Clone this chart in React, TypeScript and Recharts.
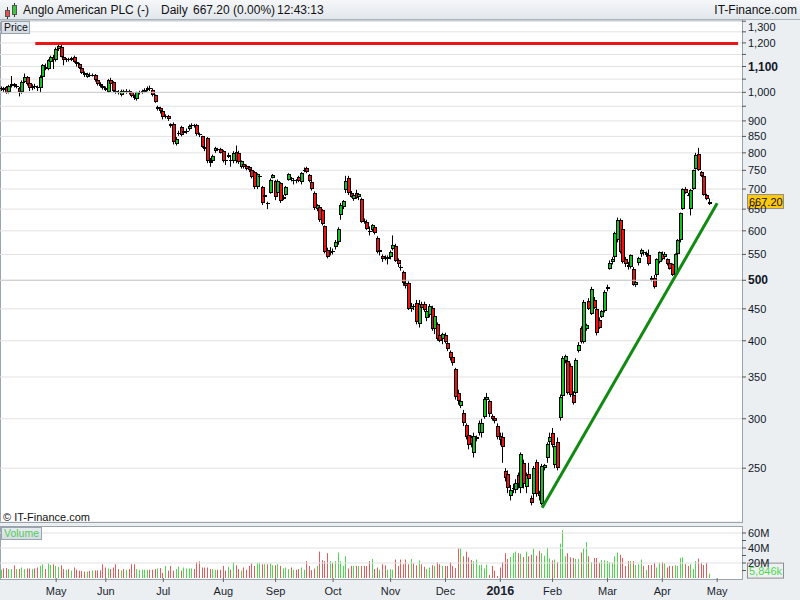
import React from "react";
import { Bar, CartesianGrid, ComposedChart, ReferenceLine, XAxis, YAxis } from "recharts";

// [open, high, low, close, volume in millions]
type Row = [number, number, number, number, number];

// first row is 31 Mar
const APR_15: Row[] = [
  [1012, 1022, 1005, 1015, 11], [1015, 1020, 1002, 1010, 12.7], [1020, 1024, 995, 998, 13.2],
  [1000, 1028, 996, 1025, 11.9], [1025, 1062, 1018, 1030, 11.9], [1030, 1035, 1018, 1022, 17],
  [1022, 1030, 1015, 1025, 11.9], [1015, 1020, 985, 1000, 11.9], [1000, 1045, 995, 1040, 14],
  [1040, 1072, 1035, 1060, 11.9], [1060, 1062, 1025, 1030, 12.7], [1035, 1040, 1005, 1015, 12.7],
  [1015, 1030, 1008, 1025, 11.9], [1025, 1032, 1012, 1020, 12.7], [1020, 1025, 1005, 1015, 14],
  [1015, 1065, 1000, 1060, 16.1], [1060, 1110, 1055, 1105, 18.3], [1100, 1112, 1085, 1090, 11.9],
  [1090, 1130, 1085, 1125, 19.5], [1120, 1145, 1115, 1140, 17.4], [1140, 1148, 1090, 1125, 18.3],
];

const MAY_15: Row[] = [
  [1125, 1180, 1120, 1175, 16.1], [1175, 1198, 1165, 1185, 14.9], [1180, 1196, 1138, 1140, 17],
  [1140, 1145, 1105, 1125, 11.9], [1125, 1135, 1118, 1130, 11], [1130, 1136, 1120, 1128, 11.9],
  [1128, 1140, 1122, 1135, 9.8], [1140, 1145, 1115, 1120, 14], [1120, 1125, 1100, 1110, 11],
  [1110, 1115, 1090, 1095, 9.8], [1095, 1098, 1070, 1075, 9.3], [1075, 1080, 1058, 1065, 8.5],
  [1060, 1075, 1055, 1070, 8.5], [1068, 1075, 1058, 1065, 9.3], [1065, 1072, 1060, 1068, 10.2],
  [1068, 1070, 1040, 1045, 10.2], [1045, 1050, 1025, 1030, 10.2], [1030, 1038, 1018, 1025, 10.2],
  [1025, 1030, 1010, 1015, 18.3],
];

const JUN_15: Row[] = [
  [1015, 1022, 1005, 1010, 14], [1000, 1050, 998, 1045, 12.7], [1045, 1055, 1025, 1030, 11.9],
  [1040, 1042, 1000, 1005, 14], [1005, 1012, 995, 1000, 18.3], [1002, 1008, 992, 998, 11.9],
  [990, 1010, 985, 1005, 10.2], [1005, 1010, 995, 1000, 11.9], [1000, 1012, 995, 1005, 11],
  [1005, 1010, 992, 1000, 11.9], [1000, 1002, 982, 988, 18.3], [988, 992, 972, 978, 18.3],
  [975, 1002, 970, 1000, 11.9], [998, 1006, 992, 1002, 11], [1000, 1010, 995, 1005, 11],
  [1002, 1015, 998, 1010, 11], [1008, 1022, 1004, 1015, 11], [1015, 1025, 1005, 1012, 11],
  [1010, 1015, 985, 990, 11], [990, 992, 962, 965, 11.9], [940, 952, 935, 948, 12.7],
  [945, 948, 925, 935, 13.2],
];

const JUL_15: Row[] = [
  [932, 935, 905, 912, 6.8], [915, 922, 908, 916, 16.1], [918, 920, 900, 905, 9.8],
  [890, 892, 878, 882, 16.1], [890, 895, 825, 832, 9.8], [828, 848, 822, 842, 11.9],
  [858, 868, 852, 860, 15.3], [880, 884, 850, 855, 9.8], [860, 872, 855, 866, 14],
  [865, 875, 858, 868, 12.7], [872, 888, 868, 882, 12.7], [882, 892, 876, 886, 12.7],
  [885, 890, 878, 884, 11.9], [886, 890, 852, 858, 21.2], [858, 862, 848, 854, 22.1],
  [850, 852, 815, 818, 14], [818, 822, 805, 810, 14], [845, 848, 770, 775, 14],
  [775, 785, 760, 770, 11.9], [776, 795, 772, 790, 11.9], [805, 818, 800, 815, 11],
  [812, 815, 805, 810, 11], [810, 815, 798, 800, 11],
];

const AUG_15: Row[] = [
  [805, 808, 772, 775, 16.1], [780, 785, 765, 778, 9.8], [788, 800, 785, 795, 14.9],
  [780, 790, 760, 778, 11], [775, 805, 770, 800, 21.2], [803, 822, 770, 775, 17],
  [800, 806, 768, 773, 11.9], [760, 778, 755, 775, 9.8], [768, 772, 755, 760, 14],
  [762, 766, 750, 755, 11], [758, 762, 745, 750, 16.1], [752, 755, 728, 732, 19.5],
  [745, 748, 700, 705, 16.1], [705, 742, 700, 740, 20.4], [735, 740, 730, 735, 20.4],
  [705, 708, 660, 664, 18.3], [680, 690, 670, 685, 18.3], [665, 668, 650, 662, 18.3],
  [690, 728, 688, 725, 19.5], [730, 740, 728, 737, 17],
];

const SEP_15: Row[] = [
  [720, 724, 672, 680, 17], [690, 725, 685, 722, 18.3], [715, 718, 665, 670, 16.1],
  [675, 685, 672, 680, 12.7], [685, 708, 682, 705, 14], [725, 742, 722, 740, 11.9],
  [728, 732, 720, 727, 14], [722, 728, 712, 725, 11], [723, 726, 715, 722, 11],
  [733, 735, 718, 720, 11.9], [718, 745, 712, 742, 14], [748, 758, 745, 752, 11],
  [756, 760, 742, 745, 22.5], [738, 740, 718, 720, 16.1], [718, 722, 696, 700, 10.6],
  [690, 694, 648, 652, 12.7], [650, 662, 645, 660, 16.1], [655, 660, 620, 625, 35.2],
  [648, 650, 612, 615, 23.8], [610, 612, 552, 555, 22.5], [560, 564, 542, 545, 33.1],
  [552, 565, 548, 557, 22.5],
];

const OCT_15: Row[] = [
  [558, 562, 550, 555, 20.4], [565, 580, 560, 575, 22.5], [575, 608, 570, 605, 34],
  [635, 665, 625, 660, 22.5], [655, 672, 650, 670, 16.1], [697, 735, 690, 720, 28.9],
  [730, 735, 685, 690, 12.7], [690, 695, 678, 680, 16.1], [675, 690, 670, 685, 16.1],
  [690, 698, 675, 678, 16.1], [680, 690, 672, 687, 16.1], [675, 678, 618, 620, 16.1],
  [622, 628, 616, 620, 16.1], [620, 625, 602, 605, 16.1], [600, 610, 590, 598, 22.5],
  [602, 615, 598, 612, 25.5], [608, 612, 592, 596, 11.9], [585, 588, 552, 555, 14],
  [555, 565, 548, 560, 11], [547, 550, 535, 540, 18.3], [545, 548, 538, 542, 17],
  [540, 548, 530, 545, 11],
];

const NOV_15: Row[] = [
  [545, 558, 540, 555, 11.9], [562, 590, 558, 570, 11], [568, 572, 535, 537, 24.6],
  [538, 542, 525, 530, 16.1], [525, 530, 518, 524, 24.6], [515, 518, 490, 495, 18.3],
  [495, 498, 485, 490, 24.6], [495, 498, 448, 450, 18.3], [450, 460, 445, 455, 25.5],
  [455, 458, 448, 454, 19.5], [460, 465, 425, 428, 17], [425, 465, 420, 458, 23.4],
  [458, 462, 450, 452, 18.3], [458, 462, 445, 448, 14.9], [435, 450, 430, 447, 11.9],
  [440, 458, 436, 455, 14], [452, 455, 415, 418, 17], [417, 440, 410, 438, 16.1],
  [425, 428, 400, 402, 21.2], [408, 412, 398, 400, 18.3], [402, 412, 395, 410, 16.1],
];

const DEC_15: Row[] = [
  [408, 412, 396, 398, 16.1], [396, 398, 385, 388, 16.1], [384, 386, 372, 375, 21.2],
  [377, 380, 365, 369, 16.1], [360, 362, 322, 325, 13.2], [330, 334, 316, 320, 39.5],
  [315, 322, 312, 320, 39.5], [307, 310, 292, 295, 28.9], [293, 295, 278, 280, 35.2],
  [283, 285, 268, 272, 27.6], [280, 282, 270, 273, 23.8], [264, 285, 260, 282, 22.5],
  [278, 282, 276, 280, 24.6], [285, 298, 282, 295, 17], [285, 300, 280, 295, 17.8],
  [302, 325, 300, 323, 12.7], [322, 330, 318, 325, 17.8], [320, 322, 302, 305, 4.2],
  [303, 305, 298, 300, 16.1], [301, 303, 295, 298, 9.8], [292, 295, 278, 280, 2.5],
];

const JAN_16: Row[] = [
  [282, 285, 272, 277, 14], [280, 285, 255, 270, 21.2], [247, 250, 238, 241, 33.1],
  [245, 248, 228, 232, 25.5], [226, 235, 222, 231, 28], [232, 236, 228, 232, 33.1],
  [231, 240, 228, 237, 35.2], [244, 246, 232, 236, 33.1], [232, 265, 228, 263, 32.3],
  [255, 258, 232, 236, 28], [233, 246, 228, 244, 35.2], [245, 255, 236, 240, 28.9],
  [224, 226, 218, 220, 31], [227, 252, 222, 250, 39.5], [256, 258, 225, 227, 29.7],
  [228, 230, 222, 226, 36.1], [219, 254, 218, 252, 33.1], [250, 254, 248, 253, 29.7],
  [260, 275, 255, 273, 40.3], [275, 285, 272, 280, 25.9],
];

const FEB_16: Row[] = [
  [285, 290, 270, 272, 23.4], [253, 272, 250, 271, 24.6], [275, 280, 248, 250, 21.2],
  [301, 328, 298, 325, 45.9], [326, 378, 325, 375, 63.7], [371, 380, 368, 378, 28.9],
  [371, 372, 328, 330, 33.1], [365, 368, 325, 327, 27.6], [328, 332, 316, 318, 26.7],
  [330, 375, 328, 372, 25.5], [385, 398, 383, 394, 25.5], [420, 422, 396, 398, 34],
  [398, 465, 396, 462, 39.5], [418, 426, 415, 424, 48], [464, 468, 448, 450, 28.9],
  [442, 488, 440, 484, 21.2], [465, 470, 450, 452, 26.7], [450, 452, 408, 412, 26.7],
  [432, 436, 418, 420, 20.4], [437, 448, 435, 446, 23.8], [447, 482, 444, 478, 23.4],
];

const MAR_16: Row[] = [
  [484, 492, 480, 488, 22.5], [522, 538, 520, 533, 21.2], [535, 545, 530, 540, 20.4],
  [545, 598, 540, 595, 28.9], [580, 630, 575, 625, 34], [625, 628, 552, 555, 31],
  [605, 610, 532, 535, 26.7], [540, 545, 525, 530, 16.1], [528, 535, 520, 525, 22.5],
  [525, 550, 522, 548, 22.5], [522, 525, 490, 492, 22.5], [492, 500, 488, 497, 17.4],
  [532, 545, 528, 542, 18.3], [550, 562, 545, 560, 24.6], [555, 558, 548, 553, 16.1],
  [548, 556, 545, 552, 10.6], [548, 560, 528, 530, 17.4], [505, 508, 498, 500, 17.4],
  [505, 510, 485, 488, 20.4], [510, 542, 505, 540, 14], [535, 556, 532, 555, 20.4],
];

const APR_16: Row[] = [
  [550, 556, 538, 540, 21.2], [545, 555, 540, 550, 19.5], [540, 542, 528, 530, 14],
  [532, 535, 520, 522, 16.1], [530, 532, 508, 510, 16.1], [510, 552, 505, 550, 17],
  [550, 582, 548, 580, 16.1], [580, 642, 575, 640, 26.7], [650, 702, 648, 700, 27.6],
  [700, 705, 688, 690, 18.3], [686, 690, 682, 685, 16.1], [650, 700, 635, 697, 18.3],
  [700, 752, 698, 750, 11.9], [755, 800, 752, 795, 22.5], [798, 815, 748, 750, 25.9],
  [745, 748, 732, 735, 20.4], [735, 738, 683, 685, 17.4], [685, 688, 672, 675, 20.4],
  [662, 676, 660, 667.2, 5.846],
];

// empty sessions to the right of the last candle
const FUTURE_SLOTS = 12;

const MONTH_TICKS = [21, 40, 62, 85, 105, 127, 149, 170, 191, 211, 232, 253, 274];
const MONTH_LABELS = ["May", "Jun", "Jul", "Aug", "Sep", "Oct", "Nov", "Dec", "2016", "Feb", "Mar", "Apr", "May"];

const PRICE_TICKS = [
  250, 300, 350, 400, 450, 500, 550, 600, 650, 700, 750, 800, 850, 900, 950, 1000, 1050, 1100, 1150,
  1200, 1250, 1300,
];
const PRICE_MINOR = [950, 1050, 1150, 1250];
const PRICE_BOLD = [500, 1100];
const PRICE_STRONG_GRID = [500, 1000];
const VOLUME_TICKS = [10e6, 20e6, 30e6, 40e6, 50e6, 60e6];
const VOLUME_LABELED = [20e6, 40e6, 60e6];

// resistance and support lines: [index, price]
const RESISTANCE: [number, number][] = [[13, 1197], [282, 1197]];
const SUPPORT: [number, number][] = [[207, 216], [274, 664]];

const CANDLE_UP = "#12c21e";
const CANDLE_DOWN = "#f01010";
const VOL_UP = "#4fd84f";
const VOL_DOWN = "#e25c5c";
const FONT = 'Arial, "Liberation Sans", sans-serif';

const ROWS: Row[] = [
  ...APR_15, ...MAY_15, ...JUN_15, ...JUL_15, ...AUG_15, ...SEP_15, ...OCT_15,
  ...NOV_15, ...DEC_15, ...JAN_16, ...FEB_16, ...MAR_16, ...APR_16,
];

type Datum = {
  i: number;
  o?: number;
  h?: number;
  l?: number;
  c?: number;
  v?: number;
  range?: [number, number];
};

const data: Datum[] = ROWS.map((r, i) => ({
  i,
  o: r[0],
  h: r[1],
  l: r[2],
  c: r[3],
  v: r[4] * 1e6,
  range: [r[2], r[1]],
}));
for (let k = 0; k < FUTURE_SLOTS; k++) data.push({ i: ROWS.length + k });

const LAST = ROWS[ROWS.length - 1];

function Candle(props: any) {
  const { x, y, width, height, payload } = props;
  if (!payload || payload.c == null) return null;
  const { o, h, l, c } = payload;
  const lh = Math.log(h);
  const ll = Math.log(l);
  const toY = (v: number) => (lh === ll ? y : y + ((lh - Math.log(v)) / (lh - ll)) * height);
  const cx = Math.round(x + width / 2);
  const top = Math.round(Math.min(toY(o), toY(c)));
  const bot = Math.round(Math.max(toY(o), toY(c)));
  const up = c >= o;
  return (
    <g>
      <line x1={cx - 0.5} x2={cx - 0.5} y1={y} y2={y + height} stroke="#000" strokeWidth={1} />
      {bot - top < 2 ? (
        <line x1={cx - 2} x2={cx + 2} y1={top + 0.5} y2={top + 0.5} stroke="#000" strokeWidth={1} />
      ) : (
        <rect
          x={cx - 1.5}
          y={top + 0.5}
          width={3}
          height={bot - top - 1}
          fill={up ? CANDLE_UP : CANDLE_DOWN}
          stroke="#000"
          strokeWidth={1}
        />
      )}
    </g>
  );
}

function VolumeBar(props: any) {
  const { x, y, width, height, payload } = props;
  if (!payload || payload.v == null || !(height > 0)) return null;
  const cx = Math.round(x + width / 2);
  return (
    <rect
      x={cx - 1}
      y={y}
      width={1}
      height={height}
      fill={payload.c >= payload.o ? VOL_UP : VOL_DOWN}
    />
  );
}

function PriceTick(props: any) {
  const { x, y, payload } = props;
  const v = payload.value as number;
  if (PRICE_MINOR.includes(v)) return null;
  return (
    <text
      x={x}
      y={Math.max(y, 7)}
      dy={4}
      textAnchor="start"
      fontSize={PRICE_BOLD.includes(v) ? 12 : 11}
      fontWeight={PRICE_BOLD.includes(v) ? "bold" : "normal"}
      fontFamily={FONT}
      fill="#101828"
    >
      {v.toLocaleString("en-US")}
    </text>
  );
}

function VolumeTick(props: any) {
  const { x, y, payload } = props;
  const v = payload.value as number;
  if (!VOLUME_LABELED.includes(v)) return null;
  return (
    <text x={x} y={y} dy={4} textAnchor="start" fontSize={11} fontFamily={FONT} fill="#101828">
      {`${v / 1e6}M`}
    </text>
  );
}

function MonthTick(props: any) {
  const { x, y, payload } = props;
  const idx = MONTH_TICKS.indexOf(payload.value);
  const label = MONTH_LABELS[idx];
  const bold = label === "2016";
  return (
    <text
      x={x}
      y={y}
      dy={11}
      textAnchor="middle"
      fontSize={bold ? 12.5 : 11}
      fontWeight={bold ? "bold" : "normal"}
      fontFamily={FONT}
      fill="#1a1f2e"
    >
      {label}
    </text>
  );
}

function PriceBadge(props: any) {
  const { viewBox } = props;
  if (!viewBox) return null;
  const right = viewBox.x + viewBox.width;
  const y = viewBox.y;
  return (
    <g>
      <rect x={right + 5.5} y={y - 7.5} width={36} height={14} fill="#ffc90e" stroke="#8d8d8d" />
      <text x={right + 7} y={y + 4} fontSize={11} fontFamily={FONT} fill="#111">
        {LAST[3].toFixed(2)}
      </text>
    </g>
  );
}

function VolumeBadge(props: any) {
  const { viewBox } = props;
  if (!viewBox) return null;
  const right = viewBox.x + viewBox.width;
  const y = viewBox.y - 3;
  return (
    <g>
      <rect x={right + 5.5} y={y - 7.5} width={36} height={15} fill="#eef0f3" stroke="#8d8d8d" />
      <text x={right + 7} y={y + 4} fontSize={11} fontFamily={FONT} fill="#4fd84f">
        {`${(LAST[4] * 1000).toLocaleString("en-US", { maximumFractionDigits: 0 })}k`}
      </text>
    </g>
  );
}

function TitleIcon() {
  return (
    <svg width={16} height={18} style={{ position: "absolute", left: 3, top: 2 }}>
      <line x1={4.5} x2={4.5} y1={5} y2={17} stroke="#333" />
      <rect x={2.5} y={8.5} width={4} height={6} fill="#e85050" stroke="#555" />
      <line x1={11.5} x2={11.5} y1={1} y2={15} stroke="#333" />
      <rect x={9.5} y={3.5} width={4} height={9} fill="#3cc83c" stroke="#555" />
    </svg>
  );
}

export default function App() {
  return (
    <div
      style={{
        position: "fixed",
        left: 0,
        top: 0,
        width: 800,
        height: 600,
        background: "#eceff2",
        fontFamily: FONT,
        overflow: "hidden",
      }}
    >
      {/* title bar */}
      <div
        style={{
          position: "absolute",
          left: 0,
          top: 0,
          width: 800,
          height: 20,
          background: "linear-gradient(#f5f7f9, #e2e7ec)",
          borderBottom: "1px solid #aab3bb",
          boxSizing: "border-box",
          fontSize: 12,
          color: "#111",
        }}
      >
        <TitleIcon />
        <span style={{ position: "absolute", left: 23, top: 3 }}>Anglo American PLC (-)</span>
        <span style={{ position: "absolute", left: 161, top: 3 }}>Daily</span>
        <span style={{ position: "absolute", left: 193, top: 3 }}>667.20 (0.00%)</span>
        <span style={{ position: "absolute", left: 277, top: 3 }}>12:43:13</span>
        <span style={{ position: "absolute", right: 3, top: 3 }}>IT-Finance.com</span>
      </div>

      {/* panel backgrounds */}
      <div
        style={{
          position: "absolute",
          left: 0,
          top: 20,
          width: 743,
          height: 503,
          background: "#fff",
          border: "1px solid #9aa4ad",
          boxSizing: "border-box",
        }}
      />
      <div
        style={{
          position: "absolute",
          left: 0,
          top: 526,
          width: 743,
          height: 54,
          background: "#fff",
          border: "1px solid #9aa4ad",
          boxSizing: "border-box",
        }}
      />

      <div style={{ position: "absolute", left: 0, top: 20 }}>
        <ComposedChart
          width={800}
          height={502}
          data={data}
          margin={{ top: 1, right: 0, bottom: 0, left: 0 }}
          barCategoryGap={0}
        >
          <CartesianGrid horizontal vertical={false} stroke="#e2e2e2" />
          <XAxis dataKey="i" hide />
          <YAxis
            orientation="right"
            width={58}
            scale="log"
            domain={[205, 1301]}
            allowDataOverflow
            ticks={PRICE_TICKS}
            interval={0}
            tick={<PriceTick />}
            tickSize={4}
            tickLine={{ stroke: "#555" }}
            axisLine={false}
          />
          {PRICE_STRONG_GRID.map((v) => (
            <ReferenceLine key={v} y={v} stroke="#cccccc" />
          ))}
          <Bar dataKey="range" shape={Candle} isAnimationActive={false} />
          <ReferenceLine
            segment={RESISTANCE.map(([x, y]) => ({ x, y }))}
            stroke="#ec1515"
            strokeWidth={3}
          />
          <ReferenceLine
            segment={SUPPORT.map(([x, y]) => ({ x, y }))}
            stroke="#118a11"
            strokeWidth={3}
          />
          <ReferenceLine y={LAST[3]} stroke="none" label={<PriceBadge />} />
        </ComposedChart>
      </div>

      <div style={{ position: "absolute", left: 0, top: 526 }}>
        <ComposedChart
          width={800}
          height={74}
          data={data}
          margin={{ top: 1, right: 0, bottom: 0, left: 0 }}
          barCategoryGap={0}
        >
          <XAxis
            dataKey="i"
            ticks={MONTH_TICKS}
            interval={0}
            tick={<MonthTick />}
            tickSize={4}
            tickLine={{ stroke: "#666" }}
            axisLine={false}
            height={22}
          />
          <YAxis
            orientation="right"
            width={58}
            domain={[0, 68e6]}
            allowDataOverflow
            ticks={VOLUME_TICKS}
            interval={0}
            tick={<VolumeTick />}
            tickSize={4}
            tickLine={{ stroke: "#555" }}
            axisLine={false}
          />
          {VOLUME_LABELED.map((v) => (
            <ReferenceLine key={v} y={v} stroke="#e2e2e2" />
          ))}
          <Bar dataKey="v" shape={VolumeBar} isAnimationActive={false} />
          <ReferenceLine y={LAST[4] * 1e6} stroke="none" label={<VolumeBadge />} />
        </ComposedChart>
      </div>

      {/* panel captions */}
      <div
        style={{
          position: "absolute",
          left: 1,
          top: 21,
          width: 29,
          height: 13,
          background: "linear-gradient(#e6ebf0, #d3dbe3)",
          border: "1px solid #9aa4ad",
          boxSizing: "border-box",
          fontSize: 10.5,
          lineHeight: "11px",
          paddingLeft: 2,
          color: "#111",
        }}
      >
        Price
      </div>
      <div
        style={{
          position: "absolute",
          left: 3,
          top: 511,
          fontSize: 11,
          color: "#111",
        }}
      >
        © IT-Finance.com
      </div>
      <div
        style={{
          position: "absolute",
          left: 1,
          top: 527,
          width: 41,
          height: 13,
          background: "linear-gradient(#e6ebf0, #d3dbe3)",
          border: "1px solid #9aa4ad",
          boxSizing: "border-box",
          fontSize: 10.5,
          lineHeight: "11px",
          paddingLeft: 2,
          color: "#55cc55",
        }}
      >
        Volume
      </div>
    </div>
  );
}
